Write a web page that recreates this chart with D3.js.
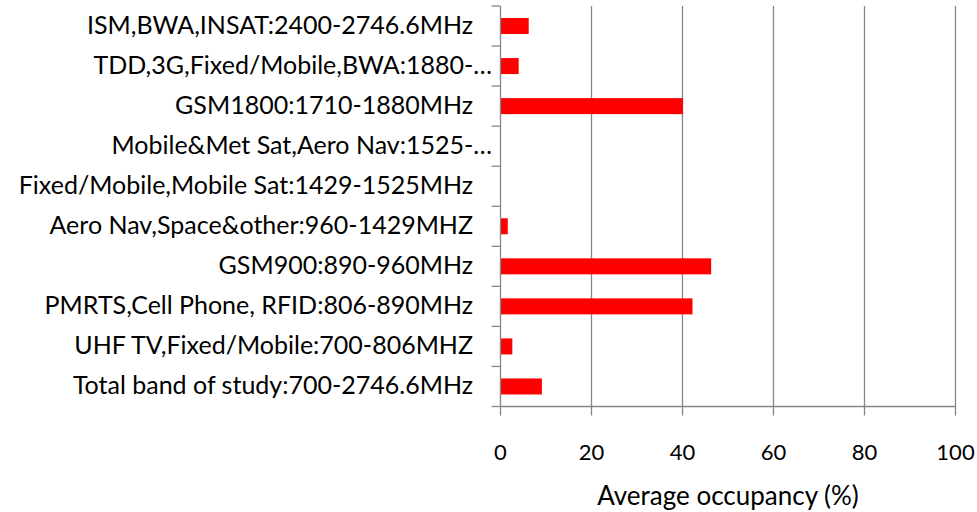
<!DOCTYPE html>
<html><head><meta charset="utf-8">
<script src="https://cdn.jsdelivr.net/npm/d3@7"></script>
<style>body{margin:0;background:#fff}svg{display:block}text{font-family:Lato,"Open Sans",sans-serif;fill:#000}</style>
</head><body><svg id="c" width="977" height="512"></svg>
<script>
const categories = [
  "ISM,BWA,INSAT:2400-2746.6MHz",
  "TDD,3G,Fixed/Mobile,BWA:1880-…",
  "GSM1800:1710-1880MHz",
  "Mobile&Met Sat,Aero Nav:1525-…",
  "Fixed/Mobile,Mobile Sat:1429-1525MHz",
  "Aero Nav,Space&other:960-1429MHZ",
  "GSM900:890-960MHz",
  "PMRTS,Cell Phone, RFID:806-890MHz",
  "UHF TV,Fixed/Mobile:700-806MHZ",
  "Total band of study:700-2746.6MHz"
];
const occupancy = [6.2, 4.0, 40.1, 0, 0, 1.6, 46.3, 42.2, 2.6, 9.1];
const xTicks = [0, 20, 40, 60, 80, 100];
const xTitle = "Average occupancy (%)";

const svg = d3.select("#c");
const m = {l: 500.5, r: 955.5, t: 6, b: 406.5};
const x = d3.scaleLinear().domain([0, 100]).range([m.l, m.r]);
const y = d3.scaleBand().domain(categories).range([m.t, m.b]).paddingInner(0.6).paddingOuter(0.3);
const yb = d3.scaleBand().domain(categories).range([m.t, m.b]);
const grey = "#868686";

// gridlines
svg.append("g").selectAll("line").data(xTicks.slice(1)).join("line")
  .attr("x1", d => x(d)).attr("x2", d => x(d)).attr("y1", m.t).attr("y2", m.b)
  .attr("stroke", grey).attr("stroke-width", 1.3);

// bars
svg.append("g").selectAll("rect").data(occupancy).join("rect")
  .attr("x", x(0)).attr("y", (d, i) => y(categories[i]))
  .attr("width", d => x(d) - x(0)).attr("height", y.bandwidth())
  .attr("fill", "#ff0000");

// y axis line + ticks (category boundaries)
svg.append("line").attr("x1", m.l).attr("x2", m.l).attr("y1", m.t).attr("y2", m.b)
  .attr("stroke", grey).attr("stroke-width", 1.3);
const bounds = categories.map(c => yb(c)).concat([m.b]);
svg.append("g").selectAll("line").data(bounds).join("line")
  .attr("x1", m.l - 9).attr("x2", m.l).attr("y1", d => d).attr("y2", d => d)
  .attr("stroke", grey).attr("stroke-width", 1.3);

// x axis
svg.append("line").attr("x1", m.l).attr("x2", m.r).attr("y1", m.b).attr("y2", m.b)
  .attr("stroke", grey).attr("stroke-width", 1.3);
svg.append("g").selectAll("line").data(xTicks).join("line")
  .attr("x1", d => x(d)).attr("x2", d => x(d)).attr("y1", m.b).attr("y2", m.b + 9)
  .attr("stroke", grey).attr("stroke-width", 1.3);
svg.append("g").selectAll("text").data(xTicks).join("text")
  .attr("x", d => x(d)).attr("y", 460).attr("text-anchor", "middle")
  .style("font-size", "22px").text(d => d);

// category labels
svg.append("g").selectAll("text").data(categories).join("text")
  .attr("x", d => d.endsWith("…") ? 492 : 473)
  .attr("y", d => yb(d) + yb.bandwidth() / 2 + 8)
  .attr("text-anchor", "end").style("font-size", "25px").text(d => d);

svg.append("text").attr("x", (m.l + m.r) / 2).attr("y", 505).attr("text-anchor", "middle")
  .style("font-size", "26px").text(xTitle);
</script></body></html>
